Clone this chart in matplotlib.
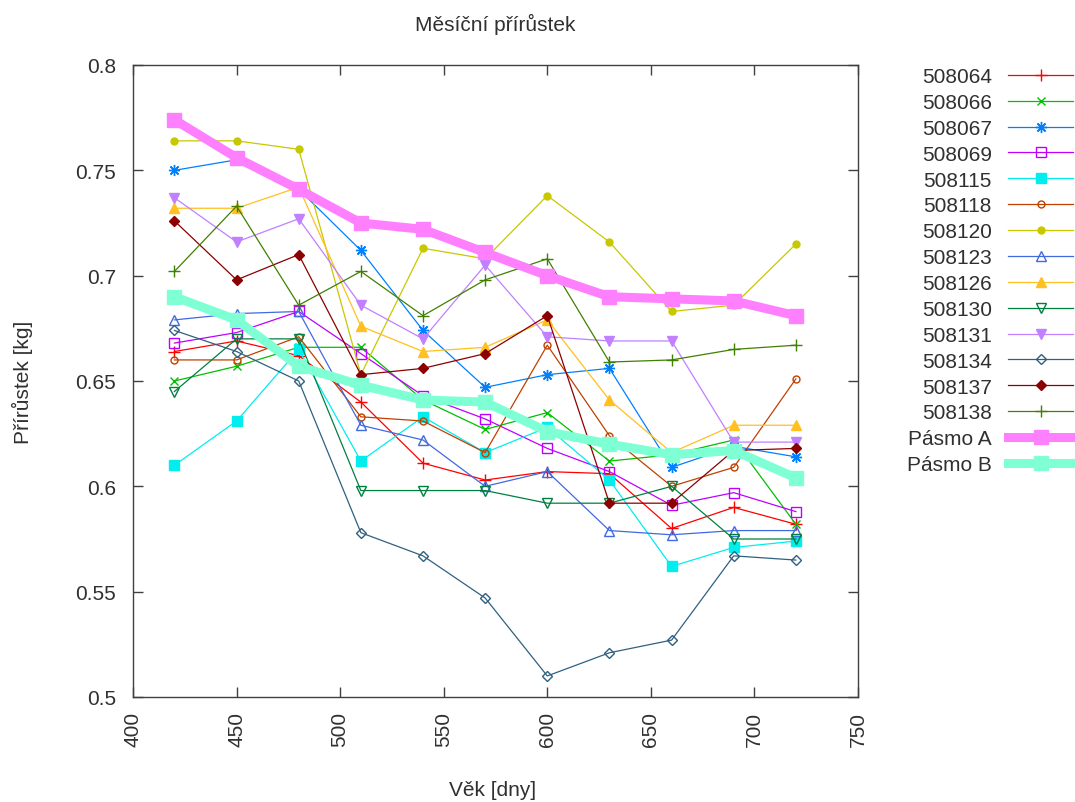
import matplotlib
matplotlib.use("Agg")
import matplotlib.pyplot as plt
from matplotlib.ticker import FuncFormatter, MultipleLocator

plt.rcParams['font.family'] = ['Liberation Sans', 'DejaVu Sans']

# Age of the animals [days]
vek = [420, 450, 480, 510, 540, 570, 600, 630, 660, 690, 720]

# Monthly weight gain per animal [kg]
s508064 = [0.664, 0.669, 0.662, 0.640, 0.611, 0.603, 0.607, 0.606, 0.580, 0.590, 0.582]
s508066 = [0.650, 0.657, 0.666, 0.666, 0.641, 0.627, 0.635, 0.612, 0.615, 0.622, 0.582]
s508067 = [0.750, 0.755, 0.741, 0.712, 0.674, 0.647, 0.653, 0.656, 0.609, 0.619, 0.614]
s508069 = [0.668, 0.673, 0.683, 0.663, 0.643, 0.632, 0.618, 0.607, 0.591, 0.597, 0.588]
s508115 = [0.610, 0.631, 0.665, 0.612, 0.633, 0.616, 0.628, 0.603, 0.562, 0.571, 0.574]
s508118 = [0.660, 0.660, 0.671, 0.633, 0.631, 0.616, 0.667, 0.624, 0.600, 0.609, 0.651]
s508120 = [0.764, 0.764, 0.760, 0.653, 0.713, 0.708, 0.738, 0.716, 0.683, 0.686, 0.715]
s508123 = [0.679, 0.682, 0.683, 0.629, 0.622, 0.600, 0.607, 0.579, 0.577, 0.579, 0.579]
s508126 = [0.732, 0.732, 0.742, 0.676, 0.664, 0.666, 0.679, 0.641, 0.616, 0.629, 0.629]
s508130 = [0.645, 0.670, 0.670, 0.598, 0.598, 0.598, 0.592, 0.592, 0.600, 0.575, 0.575]
s508131 = [0.737, 0.716, 0.727, 0.686, 0.670, 0.705, 0.671, 0.669, 0.669, 0.621, 0.621]
s508134 = [0.674, 0.664, 0.650, 0.578, 0.567, 0.547, 0.510, 0.521, 0.527, 0.567, 0.565]
s508137 = [0.726, 0.698, 0.710, 0.653, 0.656, 0.663, 0.681, 0.592, 0.592, 0.617, 0.618]
s508138 = [0.702, 0.733, 0.686, 0.702, 0.681, 0.698, 0.708, 0.659, 0.660, 0.665, 0.667]

# Reference bands
pasmo_a = [0.774, 0.756, 0.741, 0.725, 0.722, 0.711, 0.700, 0.690, 0.689, 0.688, 0.681]
pasmo_b = [0.690, 0.679, 0.657, 0.648, 0.641, 0.640, 0.626, 0.620, 0.615, 0.617, 0.604]

xticks = [400, 450, 500, 550, 600, 650, 700, 750]

# label, values, colour, marker, filled
series = [
    ("508064", s508064, "#ff0000", "+", True),
    ("508066", s508066, "#00c000", "x", True),
    ("508067", s508067, "#0080ff", (8, 2, 0), True),
    ("508069", s508069, "#c000ff", "s", False),
    ("508115", s508115, "#00eeee", "s", True),
    ("508118", s508118, "#c04000", "o", False),
    ("508120", s508120, "#c8c800", "o", True),
    ("508123", s508123, "#4169e1", "^", False),
    ("508126", s508126, "#ffc020", "^", True),
    ("508130", s508130, "#008040", "v", False),
    ("508131", s508131, "#c080ff", "v", True),
    ("508134", s508134, "#306080", "D", False),
    ("508137", s508137, "#8b0000", "D", True),
    ("508138", s508138, "#408000", "+", True),
]

sizes = {"+": 8, "x": 6, "s": 7, "o": 5, "^": 7.5, "v": 7.5, "D": 5}

fig = plt.figure(figsize=(10.75, 8.03), dpi=100)
ax = fig.add_axes([133 / 1075, 1 - 698 / 803, (858 - 133) / 1075, (698 - 66) / 803])

for label, vals, col, mk, filled in series:
    ms = sizes.get(mk, 8) if isinstance(mk, str) else 8
    ax.plot(vek, vals, color=col, lw=0.9, marker=mk, ms=ms,
            mfc=col if filled else "none", mec=col, mew=1.0, label=label)

ax.plot(vek, pasmo_a, color="#ff80ff", lw=6.5, marker="s", ms=10,
        mfc="#ff80ff", mec="#ff80ff", label="Pásmo A")
ax.plot(vek, pasmo_b, color="#7fffd4", lw=6.5, marker="s", ms=10,
        mfc="#7fffd4", mec="#7fffd4", label="Pásmo B")

ax.set_xlim(400, 750)
ax.set_ylim(0.5, 0.8)
ax.set_xticks(xticks)
ax.yaxis.set_major_locator(MultipleLocator(0.05))
ax.yaxis.set_major_formatter(FuncFormatter(lambda v, p: f"{v:g}"))

txt_col = "#303030"
for sp in ax.spines.values():
    sp.set_color("#404040")
    sp.set_linewidth(1.0)
ax.tick_params(direction="in", length=7, width=1.0, colors="#404040",
               labelcolor=txt_col, labelsize=15, top=True, right=True)
ax.tick_params(axis="y", pad=12)
ax.tick_params(axis="x", pad=10)
for t in ax.get_xticklabels():
    t.set_rotation(90)

fig.text(0.461, 0.970, "Měsíční přírůstek", ha="center", va="center",
         fontsize=15, color=txt_col)
fig.text(0.458, 0.016, "Věk [dny]", ha="center", va="center",
         fontsize=15, color=txt_col)
fig.text(0.0205, 0.524, "Přírůstek [kg]", ha="center", va="center",
         rotation=90, fontsize=15, color=txt_col)

leg = ax.legend(loc="upper right", bbox_to_anchor=(1.0, 1 - 66 / 803),
                bbox_transform=fig.transFigure, frameon=False, markerfirst=False,
                fontsize=15, handlelength=3.1, handletextpad=0.8,
                labelspacing=0.33, borderaxespad=0.0, borderpad=0.1)
for t in leg.get_texts():
    t.set_color(txt_col)

fig.savefig("out.png", dpi=100)
